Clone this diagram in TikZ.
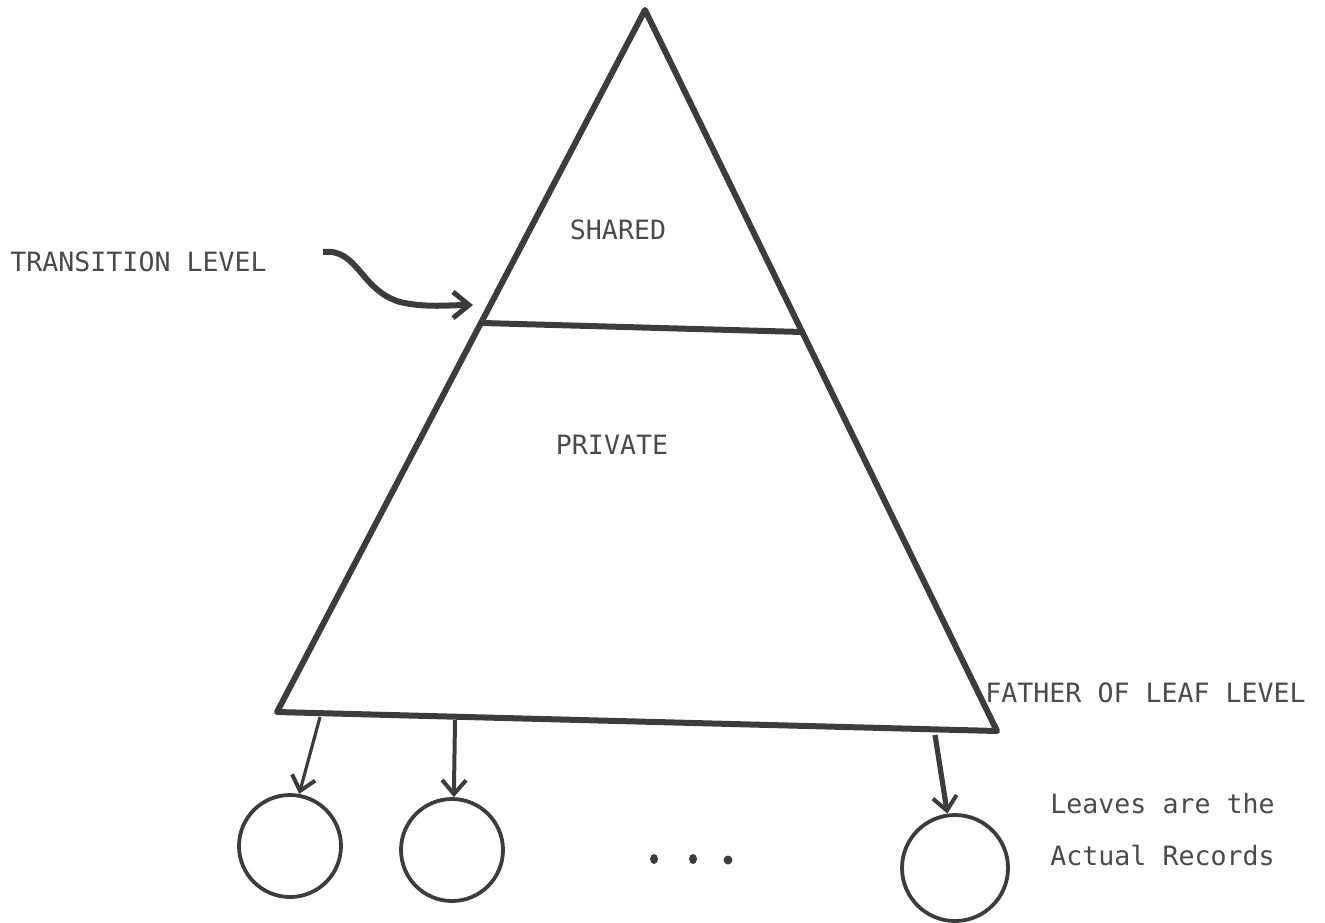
\documentclass[tikz,border=0pt]{standalone}
\usepackage{fontspec}
\setmonofont{DejaVu Sans Mono}
\usetikzlibrary{arrows.meta}
\definecolor{ink}{HTML}{3C3C3C}
\definecolor{txt}{HTML}{4A4A4A}
\tikzset{
  label text/.style={font=\ttfamily\fontsize{13.3pt}{16pt}\selectfont, text=txt, inner sep=0pt},
  treeline/.style={draw=ink, line width=3pt, line join=round, line cap=round},
  leaf/.style={circle, draw=ink, line width=1.9pt, minimum size=51pt, inner sep=0pt},
  ptr/.style={draw=ink, line width=2pt, -{Straight Barb[length=7pt,width=12pt,line width=2pt]}},
  dotmark/.style={fill=ink}
}
\begin{document}
\begin{tikzpicture}[x=0.5pt,y=-0.5pt]
\useasboundingbox (0,0) rectangle (1325,922);
% triangle
\coordinate (apex) at (645,10);
\coordinate (bl) at (277,712);
\coordinate (br) at (997,731);
\coordinate (tl) at (483,323);
\coordinate (tr) at (802,332);
\draw[treeline] (apex) -- (bl) -- (br) -- cycle;
\draw[treeline] (tl) -- (tr);
% labels
\node[label text, anchor=west] (trans) at (10,262) {TRANSITION LEVEL};
\node[label text] (shared) at (618,230) {SHARED};
\node[label text] (private) at (612,445) {PRIVATE};
\node[label text, anchor=west] (father) at (985,693) {FATHER OF LEAF LEVEL};
\node[label text, anchor=west] (leaves1) at (1050,804) {Leaves are the};
\node[label text, anchor=west] (leaves2) at (1050,855) {Actual Records};
% transition arrow
\coordinate (cs) at (323,252);
\coordinate (ce) at (473,305);
\draw[ptr, line width=3pt, -{Straight Barb[length=8pt,width=13pt,line width=2.5pt]}]
  (cs) .. controls (358,248) and (360,290) .. (400,302)
       .. controls (425,308) and (450,305) .. (ce);
% leaves
\node[leaf] (c1) at (290,846) {};
\node[leaf] (c2) at (452,850) {};
\node[leaf, minimum size=53pt] (c3) at (955,868) {};
\coordinate (s1) at (320,717);
\coordinate (s2) at (455,720);
\coordinate (s3) at (935,735);
\draw[ptr, line width=1.6pt] (s1) -- (c1.80);
\draw[ptr] (s2) -- (c2.88);
\draw[ptr, line width=2.6pt] (s3) -- (c3.98);
% ellipsis dots
\fill[dotmark] (654,859) ellipse (4 and 5);
\fill[dotmark] (693,859) ellipse (4 and 5);
\fill[dotmark] (728,860) ellipse (4.5 and 4.5);
\end{tikzpicture}
\end{document}
